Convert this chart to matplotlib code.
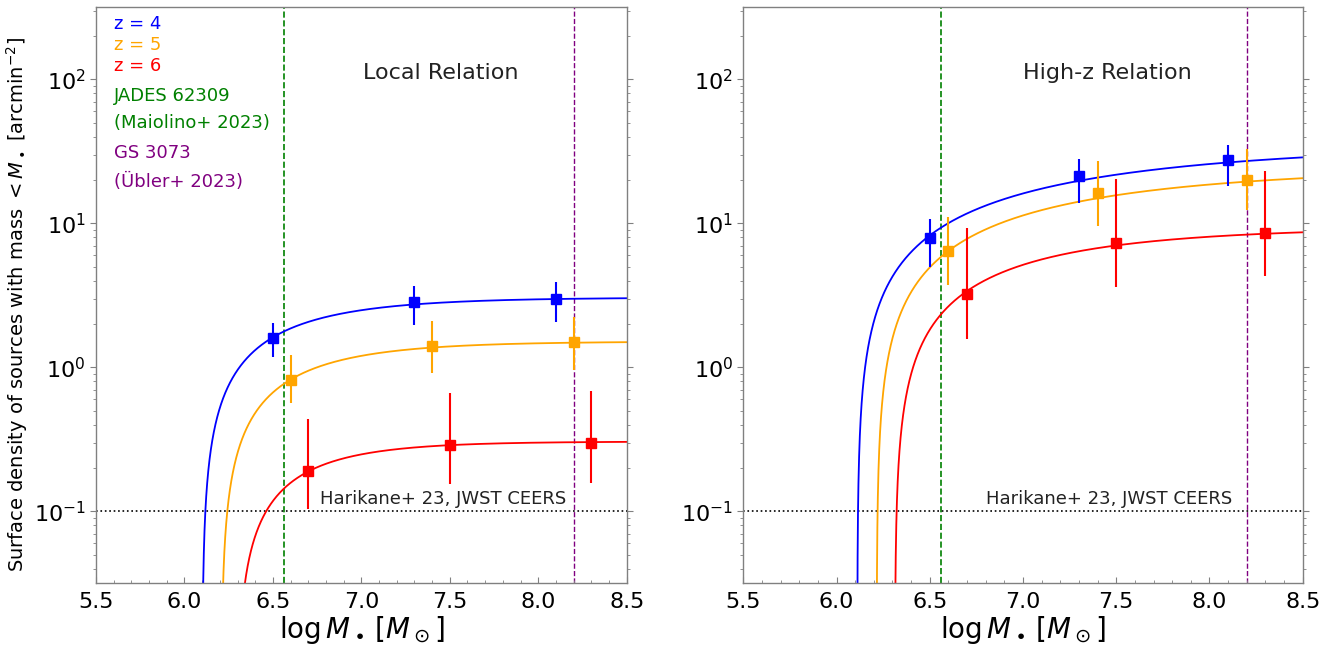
import numpy as np
import matplotlib
matplotlib.use('Agg')
import matplotlib.pyplot as plt
from matplotlib.ticker import MultipleLocator, LogLocator

# x positions of the binned points (log M_BH)
x_z4 = [6.5, 7.3, 8.1]
x_z5 = [6.6, 7.4, 8.2]
x_z6 = [6.7, 7.5, 8.3]

# left panel: local relation (value, lower, upper)
loc_z4 = [1.61, 2.82, 2.98]
loc_z4_lo = [1.17, 1.97, 2.06]
loc_z4_hi = [2.04, 3.67, 3.91]
loc_z5 = [0.82, 1.41, 1.49]
loc_z5_lo = [0.564, 0.912, 0.964]
loc_z5_hi = [1.21, 2.10, 2.24]
loc_z6 = [0.189, 0.289, 0.297]
loc_z6_lo = [0.104, 0.155, 0.157]
loc_z6_hi = [0.438, 0.662, 0.689]

# right panel: high-z relation
hz_z4 = [7.86, 21.2, 27.5]
hz_z4_lo = [4.98, 13.8, 18.2]
hz_z4_hi = [10.7, 28.1, 35.0]
hz_z5 = [6.41, 16.2, 20.0]
hz_z5_lo = [3.72, 9.64, 12.4]
hz_z5_hi = [11.1, 27.2, 33.0]
hz_z6 = [3.25, 7.26, 8.52]
hz_z6_lo = [1.58, 3.61, 4.29]
hz_z6_hi = [9.33, 20.3, 23.2]

# model curves  N(<M) = A * (1 - 10**(-k*(x - x0)))
loc_A = [3.05, 1.51, 0.305]
loc_x0 = [6.1005, 6.208, 6.296]
loc_k = [0.82, 0.87, 1.04]
hz_A = [36.0, 24.7, 9.42]
hz_x0 = [6.111, 6.215, 6.313]
hz_k = [0.29, 0.34, 0.5]

jades_mass = 6.56
gs3073_mass = 8.2
harikane_limit = 0.1

colors = ['blue', 'orange', 'red']

W, H = 1341, 648
fig = plt.figure(figsize=(W / 100, H / 100), dpi=100)
ax1 = fig.add_axes([96 / W, 1 - 583.3 / H, 530.7 / W, 576 / H])
ax2 = fig.add_axes([743.3 / W, 1 - 583.3 / H, 559.4 / W, 576 / H])

xs = np.linspace(5.5, 8.5, 6001)


def draw_panel(ax, pts, A, x0, k, title):
    for i, c in enumerate(colors):
        y = A[i] * (1 - 10 ** (-k[i] * (xs - x0[i])))
        y = np.where(y > 0, y, np.nan)
        ax.plot(xs, y, color=c, lw=1.3, zorder=2)
        xp, yp, lo, hi = pts[i]
        yp = np.array(yp)
        err = [yp - np.array(lo), np.array(hi) - yp]
        ax.errorbar(xp, yp, yerr=err, fmt='s', color=c, ms=6.5, elinewidth=1.5,
                    capsize=0, zorder=3)
    ax.axvline(jades_mass, color='green', ls='--', lw=1.2, zorder=1)
    ax.axvline(gs3073_mass, color='purple', ls='--', lw=1.0, zorder=1)
    ax.axhline(harikane_limit, color='black', ls=':', lw=1.2, zorder=1)
    ax.text(7.46, 0.112, 'Harikane+ 23, JWST CEERS', fontsize=13, ha='center',
            va='baseline', color='#222222')
    ax.text(0.65, 0.886, title, fontsize=16, ha='center', va='center',
            transform=ax.transAxes, color='#222222')

    ax.set_yscale('log')
    ax.set_xlim(5.5, 8.5)
    ax.set_ylim(10 ** -1.5, 10 ** 2.5)
    ax.xaxis.set_major_locator(MultipleLocator(0.5))
    ax.xaxis.set_minor_locator(MultipleLocator(0.1))
    ax.yaxis.set_major_locator(LogLocator(base=10))
    ax.yaxis.set_minor_locator(LogLocator(base=10, subs=np.arange(2, 10)))
    ax.tick_params(axis='x', which='both', direction='in', labelsize=16,
                   color='gray', pad=6)
    ax.tick_params(axis='x', which='major', length=4)
    ax.tick_params(axis='x', which='minor', length=2.5)
    ax.tick_params(axis='y', which='both', direction='out', right=True,
                   labelsize=16, color='gray')
    ax.tick_params(axis='y', which='major', length=4)
    ax.tick_params(axis='y', which='minor', length=2.5)
    for s in ax.spines.values():
        s.set_color('gray')
        s.set_linewidth(1.0)
    ax.set_xlabel(r'$\log M_\bullet\,[M_\odot]$', fontsize=20, labelpad=2)


draw_panel(ax1,
           [(x_z4, loc_z4, loc_z4_lo, loc_z4_hi),
            (x_z5, loc_z5, loc_z5_lo, loc_z5_hi),
            (x_z6, loc_z6, loc_z6_lo, loc_z6_hi)],
           loc_A, loc_x0, loc_k, 'Local Relation')
draw_panel(ax2,
           [(x_z4, hz_z4, hz_z4_lo, hz_z4_hi),
            (x_z5, hz_z5, hz_z5_lo, hz_z5_hi),
            (x_z6, hz_z6, hz_z6_lo, hz_z6_hi)],
           hz_A, hz_x0, hz_k, 'High-z Relation')

# annotation block in the left panel
labels = ['z = 4', 'z = 5', 'z = 6', 'JADES 62309', '(Maiolino+ 2023)',
          'GS 3073', '(Übler+ 2023)']
label_colors = ['blue', 'orange', 'red', 'green', 'green', 'purple', 'purple']
label_y = [0.9707, 0.9345, 0.8981, 0.8465, 0.7986, 0.7476, 0.6972]
for t, c, yy in zip(labels, label_colors, label_y):
    ax1.text(0.034, yy, t, color=c, fontsize=13, ha='left', va='center',
             transform=ax1.transAxes)

fig.text(17.5 / W, 1 - 305 / H,
         r'Surface density of sources with mass $<M_\bullet$ [arcmin$^{-2}$]',
         rotation=90, ha='center', va='center', fontsize=14)

fig.savefig('out.png', dpi=100)
